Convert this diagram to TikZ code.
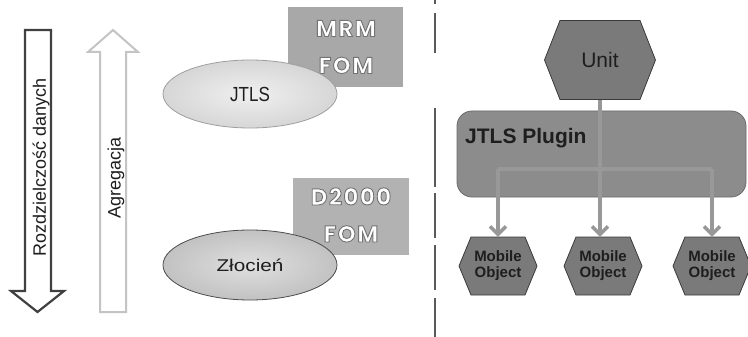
\documentclass[tikz,border=0pt]{standalone}
\usepackage{fontspec}
\setmainfont{Liberation Sans}
\newfontfamily\fomfont[LetterSpace=6]{Poppins}
\usepackage{graphicx}
\usetikzlibrary{arrows.meta,calc,shapes.geometric}
\newcommand\outlinetext[1]{\special{pdf:literal direct 0.45 G 2 Tr 0.9 w}#1\special{pdf:literal direct 0 Tr}}
\definecolor{downc}{HTML}{404040}
\definecolor{upc}{HTML}{C4C4C4}
\definecolor{fombox}{HTML}{A8A8A8}
\definecolor{fomboxb}{HTML}{B2B2B2}
\definecolor{fomtxt}{HTML}{FFFFFF}
\definecolor{plugfill}{HTML}{8C8C8C}
\definecolor{plugline}{HTML}{6A6A6A}
\definecolor{hexfill}{HTML}{7A7A7A}
\definecolor{hexline}{HTML}{3A3A3A}
\definecolor{connc}{HTML}{989898}
\definecolor{sepc}{HTML}{5A5A5A}
\definecolor{txt}{HTML}{1E1E1E}
\newcommand\hexat[5][]{%
  \path[#1] ($(#2)+(-#3,-#5)$) -- ($(#2)+(#3,-#5)$) -- ($(#2)+(#4,0)$) --
    ($(#2)+(#3,#5)$) -- ($(#2)+(-#3,#5)$) -- ($(#2)+(-#4,0)$) -- cycle;}
\tikzset{
  bigarrowdown/.style={draw=downc, line width=2.2pt, fill=white, line join=miter},
  bigarrowup/.style={draw=upc, line width=2pt, fill=white, line join=miter},
  sidelabel/.style={rotate=90, text=txt, font=\fontsize{18}{20}\selectfont, inner sep=0pt},
  fomboxst/.style={draw=none, minimum width=115pt, inner sep=0pt},
  fomtext/.style={text=fomtxt, align=center, inner sep=0pt, font=\fomfont\bfseries\fontsize{23}{37}\selectfont},
  simellipseA/.style={ellipse, draw=gray!75, line width=0.8pt, inner color=gray!12, outer color=gray!32,
     minimum width=174pt, minimum height=68pt, text=txt, font=\fontsize{17}{20}\selectfont},
  simellipseB/.style={ellipse, draw=gray!60!black, line width=0.8pt, inner color=gray!25, outer color=gray!48,
     minimum width=174pt, minimum height=70pt, text=txt, font=\fontsize{17}{20}\selectfont},
  hexshape/.style={fill=hexfill, draw=hexline, line width=0.8pt},
  unitnode/.style={minimum width=80pt, minimum height=79pt, inner sep=0pt, text=txt,
     font=\fontsize{21}{24}\selectfont},
  mobnode/.style={minimum width=54pt, minimum height=58pt, inner sep=0pt, text=txt, align=center,
     font=\bfseries\fontsize{15}{16}\selectfont},
  pluginbox/.style={fill=plugfill, draw=plugline, line width=0.8pt, rounded corners=15pt,
     minimum width=289pt, minimum height=86pt, inner sep=0pt},
  plugintitle/.style={anchor=base west, inner sep=0pt, text=txt, font=\bfseries\fontsize{21}{24}\selectfont},
  conn/.style={draw=connc, line width=3.5pt},
  conntip/.style={conn, -{Straight Barb[length=8pt, width=16pt, line width=3.5pt]}},
  sepline/.style={draw=sepc, line width=1.4pt}
}
\begin{document}
\begin{tikzpicture}[x=1pt, y=-1pt]
\useasboundingbox (0,0) rectangle (748,337);
\fill[white] (0,0) rectangle (748,337);

% left arrows
\draw[bigarrowdown] (25,30) -- (51,30) -- (51,291) -- (64,291) -- (37.5,312) -- (11,291) -- (25,291) -- cycle;
\draw[bigarrowup] (100,312) -- (126,312) -- (126,52) -- (138,52) -- (113,30) -- (88,52) -- (100,52) -- cycle;
\node[sidelabel] (res) at (41,167) {Rozdzielczość danych};
\node[sidelabel] (agg) at (116,178) {Agregacja};

% FOM boxes
\node[fomboxst, fill=fombox, minimum height=80pt] (mrmbox) at (345,47) {};
\node[fomtext] (mrm) at (346,47) {\outlinetext{MRM}\\\outlinetext{FOM}};
\node[fomboxst, fill=fomboxb, minimum width=116pt, minimum height=77pt] (d2box) at (351,216.5) {};
\node[fomtext] (d2) at (351,215) {\outlinetext{D2000}\\\outlinetext{FOM}};

% ellipses
\node[simellipseA] (jtls) at (250,94) {\scalebox{1}[1.2]{JTLS}};
\node[simellipseB] (zloc) at (250,265) {\scalebox{1.22}[1]{Złocień}};

% separator
\path[sepline] (435,0) -- (435,4) (435,13) -- (435,53) (435,108) -- (435,187)
  (435,193) -- (435,238) (435,245) -- (435,290) (435,298) -- (435,337);

% plugin
\node[pluginbox] (plugin) at (601.5,154) {};
\node[plugintitle] (plugtitle) at (465,143) {JTLS Plugin};

% hexagons
\coordinate (uc) at (600,60);
\hexat[hexshape]{uc}{40}{55.5}{39.5}
\node[unitnode] (unit) at (uc) {Unit};
\coordinate (m1c) at (498,266);
\coordinate (m2c) at (603,266);
\coordinate (m3c) at (712,266);
\hexat[hexshape]{m1c}{27}{39}{29}
\hexat[hexshape]{m2c}{27}{39}{29}
\hexat[hexshape]{m3c}{27}{39}{29}
\node[mobnode] (mob1) at (m1c) {Mobile\\Object};
\node[mobnode] (mob2) at (m2c) {Mobile\\Object};
\node[mobnode] (mob3) at (m3c) {Mobile\\Object};

% connectors
\coordinate (bar) at (603,169);
\draw[conn] (unit.south) -- (unit.south |- bar);
\draw[conn] (mob1.north |- bar) -- (mob3.north |- bar);
\draw[conntip] (unit.south |- bar) -- (unit.south |- mob2.north);
\draw[conntip] (mob1.north |- bar) -- (mob1.north);
\draw[conntip] (mob3.north |- bar) -- (mob3.north);
\end{tikzpicture}
\end{document}
